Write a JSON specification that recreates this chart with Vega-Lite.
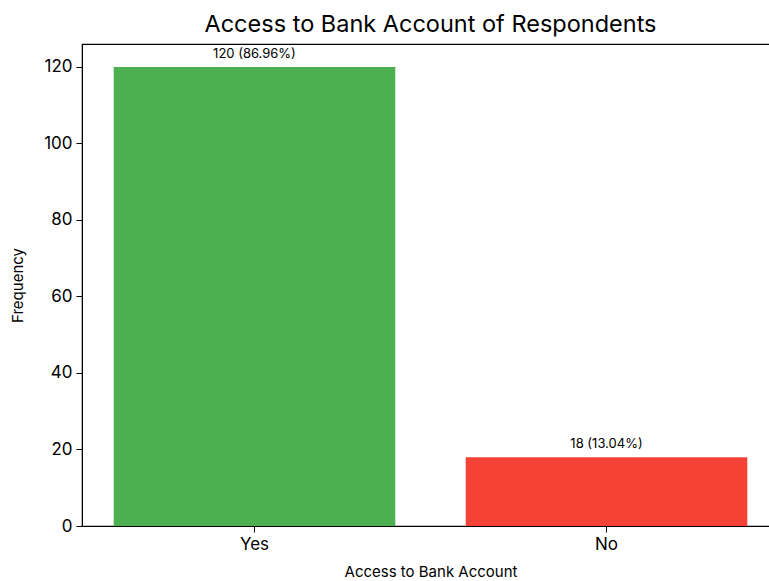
{
  "$schema": "https://vega.github.io/schema/vega-lite/v6.json",
  "autosize": "none",
  "width": 697,
  "height": 482,
  "padding": {"left": 82, "top": 44, "right": 0, "bottom": 55},
  "background": "white",
  "config": {
    "font": "Inter",
    "view": {"stroke": "black", "strokeWidth": 1.2},
    "axis": {"domainColor": "black", "tickColor": "black", "labelColor": "black", "titleColor": "black", "grid": false, "tickSize": 6, "labelPadding": 4, "labelFontSize": 17, "titleFontSize": 15, "titleFontWeight": "normal", "labelFont": "Inter", "titleFont": "Inter"}
  },
  "title": {"text": "Access to Bank Account of Respondents", "fontSize": 23.5, "fontWeight": "normal", "font": "Inter", "color": "black", "offset": 8, "anchor": "middle"},
  "data": {"values": [
    {"access": "Yes", "count": 120, "label": "120 (86.96%)", "color": "#4CAF50"},
    {"access": "No", "count": 18, "label": "18 (13.04%)", "color": "#F44336"}
  ]},
  "encoding": {
    "x": {"field": "access", "type": "nominal", "sort": ["Yes", "No"], "scale": {"paddingInner": 0.2, "paddingOuter": 0.09}, "axis": {"labelAngle": 0, "title": "Access to Bank Account", "titlePadding": 12}},
    "y": {"field": "count", "type": "quantitative", "scale": {"domain": [0, 126], "nice": false}, "axis": {"values": [0, 20, 40, 60, 80, 100, 120], "title": "Frequency", "titlePadding": 18}}
  },
  "layer": [
    {"mark": {"type": "bar"}, "encoding": {"color": {"field": "color", "type": "nominal", "scale": null}}},
    {"mark": {"type": "text", "baseline": "bottom", "dy": -6, "fontSize": 13, "font": "Inter", "color": "black"}, "encoding": {"text": {"field": "label"}}}
  ]
}
